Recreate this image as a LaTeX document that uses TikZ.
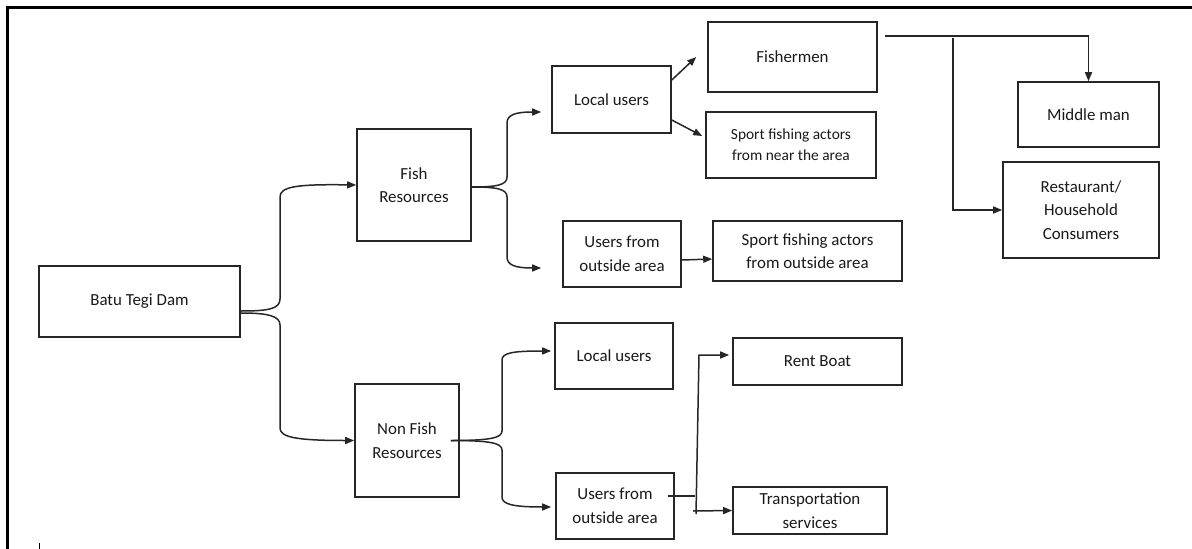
\documentclass[tikz,border=0pt]{standalone}
\usepackage{fontspec}
\setmainfont{Carlito}
\usepackage{tikz}
\usetikzlibrary{arrows.meta}

\tikzset{
	box/.style={draw=black!85, line width=1.6pt, align=center, inner sep=0pt, text=black!90, font=\fontsize{16.9}{23.5}\selectfont},
	arr/.style={-{Triangle[length=9pt,width=7pt]}, line width=1.5pt, draw=black!85},
	link/.style={line width=1.5pt, draw=black!85}
}

\begin{document}
\begin{tikzpicture}[x=1pt, y=-1pt]
	\useasboundingbox (0,0) rectangle (1192,549);
	\draw[line width=3.2pt] (7.5,549) -- (7.5,7.5) -- (1192,7.5);
	\draw[line width=0.8pt] (39,543) -- (39,549);

	\node (dam) at (139.5,301.5) [box, minimum width=201, minimum height=71] {Batu Tegi Dam};
		\node (fish) at (414,185) [box, minimum width=114, minimum height=112] {Fish\\Resources};
		\node (nonfish) at (407,440.5) [box, minimum width=104, minimum height=113] {Non Fish\\Resources};
			\node (local1) at (611.5,99.5) [box, minimum width=119, minimum height=67] {Local users};
			\node (outside1) at (622,254) [box, minimum width=118, minimum height=66] {Users from\\outside area};
			\node (local2) at (614,356) [box, minimum width=118, minimum height=66] {Local users};
			\node (outside2) at (615,506) [box, minimum width=118, minimum height=66] {Users from\\outside area};
				\node (fishermen) at (792.5,57) [box, minimum width=169, minimum height=70] {Fishermen};
				\node (near) at (791,145) [box, minimum width=170, minimum height=66, font=\fontsize{15.4}{21}\selectfont] {Sport fishing actors\\from near the area};
				\node (sportout) at (807.5,251) [box, minimum width=189, minimum height=60] {Sport fishing actors\\from outside area};
				\node (rent) at (817.5,361.5) [box, minimum width=169, minimum height=47] {Rent Boat};
				\node (transport) at (810,510.5) [box, minimum width=154, minimum height=47] {Transportation\\services};
					\node (middle) at (1088.5,114.5) [box, minimum width=141, minimum height=65] {Middle man};
					\node (resto) at (1081,210) [box, minimum width=156, minimum height=96] {Restaurant/\\Household\\Consumers};

	% dam splits into fish and non fish
	\draw[arr] ([shift={(0,9.5)}]dam.east) .. controls (268,311) and (280,309) .. (280,299) -- (280,197) .. controls (280,187) and (295,184) .. (fish.west);
	\draw[arr] ([shift={(0,11.5)}]dam.east) .. controls (268,313) and (280,316) .. (280,325) -- (280,428) .. controls (280,437) and (295,440.5) .. (nonfish.west);

	% fish resources
	\draw[arr] ([shift={(0,2)}]fish.east) .. controls (497,187) and (507,185) .. (507,177) -- (507,123) .. controls (507,115) and (515,112) .. ([shift={(-10,12.5)}]local1.west);
	\draw[arr] ([shift={(0,2)}]fish.east) .. controls (497,187) and (507,189) .. (507,197) -- (507,257) .. controls (507,265) and (515,268) .. ([shift={(-21,14)}]outside1.west);
	\draw[arr] ([shift={(0,-19.5)}]local1.east) -- ([shift={(-11,0)}]fishermen.west);
	\draw[arr] ([shift={(0,20.5)}]local1.east) -- ([shift={(-3,-9)}]near.west);
	\draw[arr] ([shift={(0,6)}]outside1.east) -- ([shift={(0,8)}]sportout.west);

	% fishermen sell on
	\coordinate (split) at (953,38);
	\draw[arr] ([shift={(7,-21)}]fishermen.east) -| (middle.north);
	\draw[arr] (split) |- (resto.west);

	% non fish resources
	\draw[arr] ([xshift=-9pt]nonfish.east) .. controls (490,440.5) and (502,438) .. (502,431) -- (502,360) .. controls (502,353) and (512,351) .. ([shift={(-3,-5)}]local2.west);
	\draw[arr] ([xshift=-9pt]nonfish.east) .. controls (490,440.5) and (502,443) .. (502,450) -- (502,497) .. controls (502,504) and (512,507) .. ([shift={(-4,1)}]outside2.west);

	\coordinate (jb) at (696,514);
	\coordinate (jt) at (699,355);
	\coordinate (jl) at (693,511);
	\draw[link] ([shift={(-7,-10)}]outside2.east) -- (695,496);
	\draw[arr] (jb) -- (jt) -- ([shift={(-3,-6.5)}]rent.west);
	\draw[arr] (jl) -- (transport.west);
\end{tikzpicture}
\end{document}
